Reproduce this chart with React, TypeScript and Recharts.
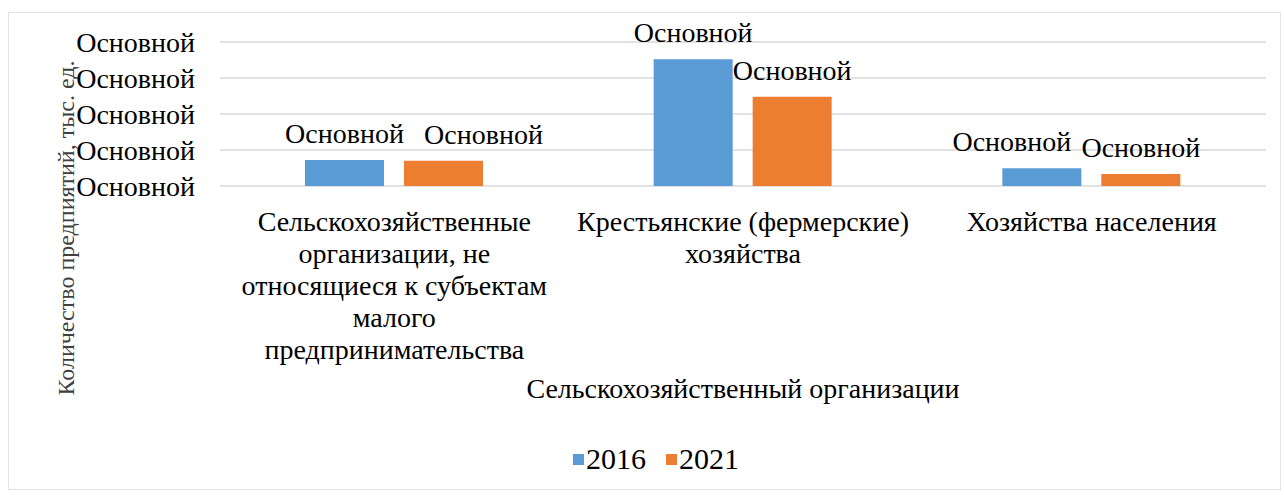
import { BarChart, Bar, CartesianGrid, XAxis, YAxis, Legend, LabelList } from 'recharts'

// line breaks follow the wrapping in the original picture
const categories = [
  'Сельскохозяйственные\nорганизации, не\nотносящиеся к субъектам\nмалого\nпредпринимательства',
  'Крестьянские (фермерские)\nхозяйства',
  'Хозяйства населения',
]
const values2016 = [0.72, 3.52, 0.49]
const values2021 = [0.7, 2.48, 0.33]
const yTicks = [0, 1, 2, 3, 4]
const yTickLabels = ['Основной', 'Основной', 'Основной', 'Основной', 'Основной']
const barLabels2016 = ['Основной', 'Основной', 'Основной']
const barLabels2021 = ['Основной', 'Основной', 'Основной']

const data = categories.map((name, i) => ({
  name,
  y2016: values2016[i],
  y2021: values2021[i],
}))

const font = "'Liberation Serif', Tinos, 'Times New Roman', serif"
const blue = '#5b9bd5'
const orange = '#ed7d31'
const textStyle = { fontFamily: font, fontSize: 28 }

// Excel nudged some overlapping labels sideways
const shift2016 = [0, 0, -30]
const shift2021 = [40, 0, 0]

function makeBarLabel(texts: string[], shifts: number[]) {
  return (props: any) => {
    const { x, y, width, index } = props
    return (
      <text
        x={x + width / 2 + shifts[index]}
        y={y - 17}
        textAnchor="middle"
        style={textStyle}
        fill="#000"
      >
        {texts[index]}
      </text>
    )
  }
}

function CategoryTick(props: any) {
  const { x, y, payload } = props
  const lines = String(payload.value).split('\n')
  return (
    <text x={x} y={y + 43} textAnchor="middle" style={textStyle} fill="#000">
      {lines.map((line, i) => (
        <tspan key={i} x={x} dy={i === 0 ? 0 : 32}>
          {line}
        </tspan>
      ))}
    </text>
  )
}

function LegendContent() {
  const items = [
    { label: '2016', color: blue },
    { label: '2021', color: orange },
  ]
  return (
    <div style={{ display: 'flex', justifyContent: 'center', alignItems: 'center', fontFamily: font, fontSize: 30 }}>
      {items.map((it) => (
        <div key={it.label} style={{ display: 'flex', alignItems: 'center', margin: '0 10px' }}>
          <span style={{ width: 11, height: 11, background: it.color, display: 'inline-block', marginRight: 2 }} />
          <span>{it.label}</span>
        </div>
      ))}
    </div>
  )
}

export default function App() {
  return (
    <div style={{ position: 'relative', width: 1284, height: 495, background: '#fff', fontFamily: font }}>
      <style>{'body{margin:0}'}</style>
      <div
        style={{
          position: 'absolute',
          left: 8,
          top: 12,
          width: 1271,
          height: 476,
          border: '1px solid #e3e3e3',
        }}
      />
      <BarChart
        width={1284}
        height={495}
        data={data}
        margin={{ top: 42, right: 18, bottom: 89, left: 0 }}
        barSize={79}
        barGap={20}
      >
        <CartesianGrid vertical={false} stroke="#d9d9d9" strokeWidth={1.5} />
        <XAxis
          dataKey="name"
          axisLine={false}
          tickLine={false}
          tickSize={0}
          height={220}
          interval={0}
          tick={<CategoryTick />}
          label={{
            value: 'Сельскохозяйственный организации',
            position: 'insideBottom',
            offset: 8,
            style: textStyle,
            fill: '#000',
          }}
        />
        <YAxis
          width={220}
          domain={[0, 4]}
          ticks={yTicks}
          interval={0}
          axisLine={false}
          tickLine={false}
          tickSize={0}
          tickMargin={25}
          tickFormatter={(v: number) => yTickLabels[yTicks.indexOf(v)]}
          tick={{ style: textStyle, fill: '#000' }}
          label={{
            content: () => (
              <text
                x={66}
                y={228}
                transform="rotate(-90 66 228)"
                textAnchor="middle"
                dominantBaseline="central"
                style={{ fontFamily: font, fontSize: 24 }}
                fill="#404040"
              >
                Количество предпиятий, тыс. ед.
              </text>
            ),
          }}
        />
        <Legend
          verticalAlign="middle"
          content={<LegendContent />}
          wrapperStyle={{ top: 442, left: 14, width: 1284 }}
        />
        <Bar dataKey="y2016" name="2016" fill={blue} isAnimationActive={false}>
          <LabelList dataKey="y2016" content={makeBarLabel(barLabels2016, shift2016)} />
        </Bar>
        <Bar dataKey="y2021" name="2021" fill={orange} isAnimationActive={false}>
          <LabelList dataKey="y2021" content={makeBarLabel(barLabels2021, shift2021)} />
        </Bar>
      </BarChart>
    </div>
  )
}
